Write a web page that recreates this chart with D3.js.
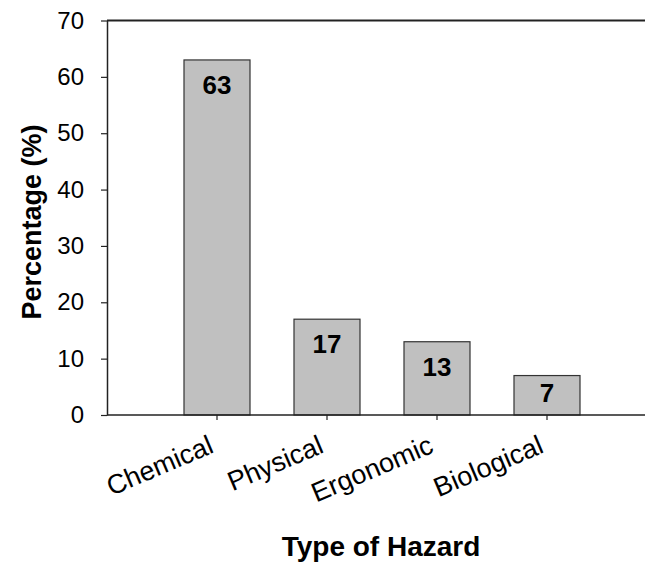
<!DOCTYPE html>
<html>
<head>
<meta charset="utf-8">
<script src="https://cdn.jsdelivr.net/npm/d3@7"></script>
<style>
  html, body { margin: 0; padding: 0; background: #fff; }
  svg { display: block; font-family: Arial, "Liberation Sans", sans-serif; }
</style>
</head>
<body>
<svg id="chart" width="645" height="565"></svg>
<script>
const categories = ['Chemical', 'Physical', 'Ergonomic', 'Biological'];
const values     = [63, 17, 13, 7];
const yTicks     = [0, 10, 20, 30, 40, 50, 60, 70];

const svg = d3.select('#chart');

const plotL = 107, plotR = 645, plotT = 20.5, plotB = 415;

const x = d3.scaleBand().domain(categories).range([162, 602])
    .paddingInner(0.4).paddingOuter(0.2);
const y = d3.scaleLinear().domain([0, 70]).range([plotB, plotT]);

// frame top line
svg.append('line')
    .attr('x1', plotL).attr('x2', plotR)
    .attr('y1', y(70)).attr('y2', y(70))
    .attr('stroke', '#222').attr('stroke-width', 2);

// bars
svg.selectAll('.bar')
    .data(values)
    .join('rect')
    .attr('class', 'bar')
    .attr('x', (_, i) => x(categories[i]))
    .attr('y', d => y(d))
    .attr('width', x.bandwidth())
    .attr('height', d => y(0) - y(d))
    .attr('fill', '#c0c0c0')
    .attr('stroke', '#333')
    .attr('stroke-width', 1.2);

// value labels inside bars
svg.selectAll('.vl')
    .data(values)
    .join('text')
    .attr('class', 'vl')
    .attr('x', (_, i) => x(categories[i]) + x.bandwidth() / 2)
    .attr('y', d => Math.min(y(d) + 34, y(0) - 13))
    .attr('text-anchor', 'middle')
    .attr('font-size', 26)
    .attr('font-weight', 'bold')
    .attr('fill', '#000')
    .text(d => d);

// y axis
const yAxis = svg.append('g')
    .attr('transform', `translate(${plotL},0)`)
    .call(d3.axisLeft(y).tickValues(yTicks).tickSize(6).tickPadding(17).tickSizeOuter(0));
yAxis.select('.domain').attr('stroke', '#222').attr('stroke-width', 1.5);
yAxis.selectAll('.tick line').attr('stroke', '#222').attr('stroke-width', 1.2);
yAxis.selectAll('.tick text')
    .attr('font-size', 24)
    .attr('fill', '#000')
    .attr('font-family', 'Arial, "Liberation Sans", sans-serif');

// x axis baseline across the full width
svg.append('line')
    .attr('x1', plotL).attr('x2', plotR)
    .attr('y1', plotB).attr('y2', plotB)
    .attr('stroke', '#222').attr('stroke-width', 1.5);

// x ticks and rotated category labels
const xAxis = svg.append('g')
    .attr('transform', `translate(0,${plotB})`)
    .call(d3.axisBottom(x).tickSize(5).tickSizeOuter(0));
xAxis.select('.domain').remove();
xAxis.selectAll('.tick line').attr('stroke', '#222').attr('stroke-width', 1.2);
xAxis.selectAll('.tick text')
    .attr('font-size', 27)
    .attr('fill', '#000')
    .attr('font-family', 'Arial, "Liberation Sans", sans-serif')
    .attr('text-anchor', 'end')
    .attr('dy', null)
    .attr('y', null)
    .attr('transform', 'translate(-2,37) rotate(-23)');

// axis titles
svg.append('text')
    .attr('transform', `translate(41,222) rotate(-90)`)
    .attr('text-anchor', 'middle')
    .attr('font-size', 27)
    .attr('font-weight', 'bold')
    .text('Percentage (%)');

svg.append('text')
    .attr('x', 381)
    .attr('y', 556)
    .attr('text-anchor', 'middle')
    .attr('font-size', 28)
    .attr('font-weight', 'bold')
    .text('Type of Hazard');
</script>
</body>
</html>
